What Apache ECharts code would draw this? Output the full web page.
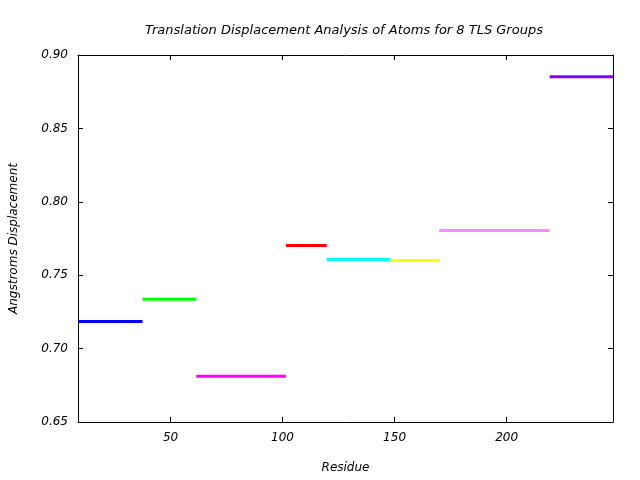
<!DOCTYPE html>
<html>
<head>
<meta charset="utf-8">
<script src="https://cdn.jsdelivr.net/npm/echarts@6/dist/echarts.min.js"></script>
<style>
  html, body { margin: 0; padding: 0; background: #fff; }
  #chart { width: 640px; height: 480px; }
</style>
</head>
<body>
<div id="chart"></div>
<script>
// residue ranges of each TLS group and its displacement
const groupStart = [8.7, 37.5, 61.5, 101.5, 119.7, 148.1, 169.9, 219.2]
const groupEnd = [37.5, 61.5, 101.5, 119.7, 148.1, 169.9, 219.2, 247.5]
const displacement = [0.7185, 0.7337, 0.6811, 0.7702, 0.7607, 0.7600, 0.7804, 0.8852]
const groupColors = ['#0000ff', '#00ff00', '#ff00ff', '#ff0000', '#00ffff', '#ffff00', '#ff88ff', '#8000ff']
const xTicks = [50, 100, 150, 200]

const chart = echarts.init(document.getElementById('chart'))

const font = 'DejaVu Sans'
const tickCommon = {
  show: true,
  inside: true,
  length: 5,
  lineStyle: { color: '#000' }
}
const lineCommon = {
  show: true,
  onZero: false,
  lineStyle: { color: '#000', width: 1 }
}

const series = displacement.map((v, i) => ({
  type: 'line',
  showSymbol: false,
  silent: true,
  lineStyle: { color: groupColors[i], width: 3 },
  data: [[groupStart[i], v], [groupEnd[i], v]]
}))

const option = {
  animation: false,
  title: {
    text: 'Translation Displacement Analysis of Atoms for 8 TLS Groups',
    left: 339,
    top: 19,
    textAlign: 'center',
    textStyle: { fontFamily: font, fontStyle: 'italic', fontWeight: 'normal', fontSize: 13, color: '#000' }
  },
  grid: { left: 76, right: 27, top: 55, bottom: 58 },
  xAxis: [
    {
      type: 'value',
      min: 8.7,
      max: 247.5,
      name: 'Residue',
      nameLocation: 'middle',
      nameGap: 40,
      nameTextStyle: { fontFamily: font, fontStyle: 'italic', fontSize: 12, color: '#000' },
      axisLine: lineCommon,
      axisTick: Object.assign({ customValues: xTicks }, tickCommon),
      axisLabel: {
        customValues: xTicks,
        margin: 10,
        fontFamily: font, fontStyle: 'italic', fontSize: 12, color: '#000'
      },
      splitLine: { show: false }
    },
    {
      type: 'value',
      position: 'top',
      min: 8.7,
      max: 247.5,
      axisLine: lineCommon,
      axisTick: Object.assign({ customValues: xTicks }, tickCommon),
      axisLabel: { show: false },
      splitLine: { show: false }
    }
  ],
  yAxis: [
    {
      type: 'value',
      min: 0.65,
      max: 0.90,
      interval: 0.05,
      name: 'Angstroms Displacement',
      nameLocation: 'middle',
      nameGap: 58,
      nameTextStyle: { fontFamily: font, fontStyle: 'italic', fontSize: 12, color: '#000' },
      axisLine: lineCommon,
      axisTick: tickCommon,
      axisLabel: {
        margin: 10,
        formatter: v => v.toFixed(2),
        fontFamily: font, fontStyle: 'italic', fontSize: 12, color: '#000'
      },
      splitLine: { show: false }
    },
    {
      type: 'value',
      position: 'right',
      min: 0.65,
      max: 0.90,
      interval: 0.05,
      axisLine: lineCommon,
      axisTick: tickCommon,
      axisLabel: { show: false },
      splitLine: { show: false }
    }
  ],
  series: series
}

chart.setOption(option)
</script>
</body>
</html>
